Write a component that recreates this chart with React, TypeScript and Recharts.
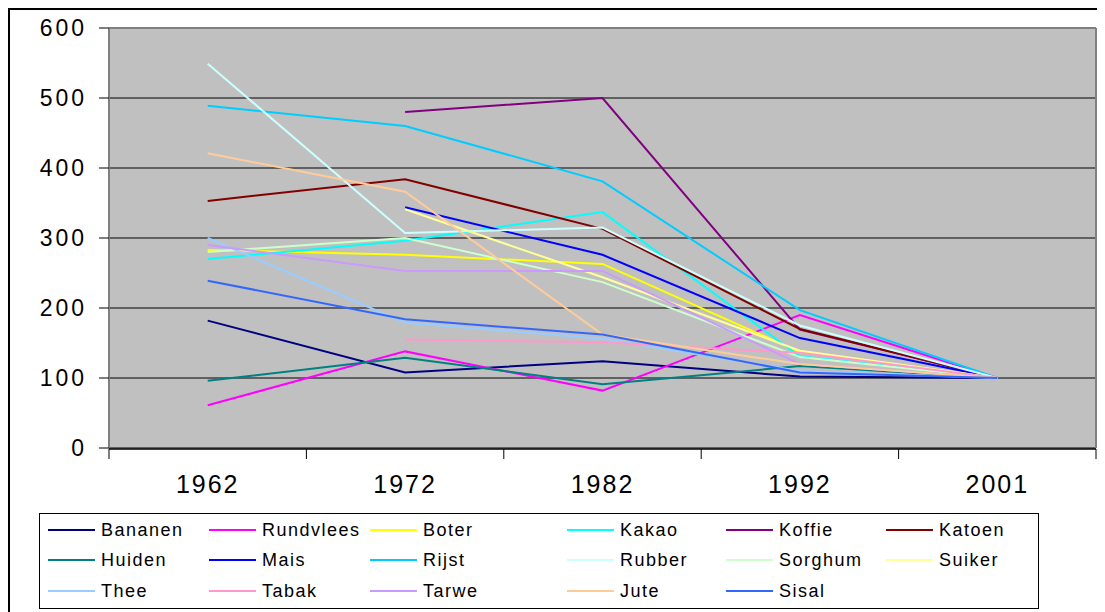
import { LineChart, Line, XAxis, YAxis, CartesianGrid, ReferenceLine, Legend } from "recharts"

const FONT = '"Liberation Sans", Arial, sans-serif'

// price index per commodity, 2001 = 100
const years = ["1962", "1972", "1982", "1992", "2001"]

const bananen = [182, 108, 124, 102, 100]
const rundvlees = [61, 138, 82, 190, 100]
const boter = [283, 276, 263, 137, 100]
const kakao = [270, 296, 337, 131, 100]
const koffie = [null, 480, 500, 169, 100]
const katoen = [353, 384, 313, 170, 100]
const huiden = [96, 129, 91, 117, 100]
const mais = [null, 344, 276, 157, 100]
const rijst = [489, 460, 381, 197, 100]
const rubber = [549, 307, 315, 175, 100]
const sorghum = [280, 300, 237, 130, 100]
const suiker = [null, 341, 244, 139, 100]
const thee = [300, 179, 156, 110, 100]
const tabak = [null, 155, 151, 136, 100]
const tarwe = [290, 253, 253, 120, 100]
const jute = [421, 366, 162, 120, 100]
const sisal = [239, 184, 162, 108, 100]

const yTicks = [0, 100, 200, 300, 400, 500, 600]
// category boundaries, counted in bands
const edgeTicks = [0, 1, 2, 3, 4, 5]

const commodities = [
  { name: "Bananen", values: bananen },
  { name: "Rundvlees", values: rundvlees },
  { name: "Boter", values: boter },
  { name: "Kakao", values: kakao },
  { name: "Koffie", values: koffie },
  { name: "Katoen", values: katoen },
  { name: "Huiden", values: huiden },
  { name: "Mais", values: mais },
  { name: "Rijst", values: rijst },
  { name: "Rubber", values: rubber },
  { name: "Sorghum", values: sorghum },
  { name: "Suiker", values: suiker },
  { name: "Thee", values: thee },
  { name: "Tabak", values: tabak },
  { name: "Tarwe", values: tarwe },
  { name: "Jute", values: jute },
  { name: "Sisal", values: sisal },
]

// classic office palette
const LINE_COLORS: Record<string, string> = {
  Bananen: "#000080",
  Rundvlees: "#FF00FF",
  Boter: "#FFFF00",
  Kakao: "#00FFFF",
  Koffie: "#800080",
  Katoen: "#800000",
  Huiden: "#008080",
  Mais: "#0000FF",
  Rijst: "#00CCFF",
  Rubber: "#CCFFFF",
  Sorghum: "#CCFFCC",
  Suiker: "#FFFF99",
  Thee: "#99CCFF",
  Tabak: "#FF99CC",
  Tarwe: "#CC99FF",
  Jute: "#FFCC99",
  Sisal: "#3366FF",
}

const chartData = years.map((year, i) => {
  const row: Record<string, string | number | null> = { year }
  commodities.forEach((c) => {
    row[c.name] = c.values[i]
  })
  return row
})

const bandCenter = (row: any) => years.indexOf(row.year) + 0.5

// legend grid: 6 columns, 3 rows
const LEGEND_COLS = [8, 169, 330, 527, 686, 846]
const LEGEND_ROWS = [15.5, 46, 77]

function YTick({ x, y, payload }: any) {
  return (
    <text x={x} y={y} dy="0.36em" textAnchor="end" fontSize={23} letterSpacing={3} fill="#000" fontFamily={FONT}>
      {payload.value}
    </text>
  )
}

function XTick({ x, y, payload }: any) {
  return (
    <text x={x} y={y} dy="0.71em" textAnchor="middle" fontSize={25} letterSpacing={2} fill="#000" fontFamily={FONT}>
      {payload.value}
    </text>
  )
}

function LegendBox() {
  return (
    <div
      style={{
        position: "relative",
        width: 1000,
        height: 96,
        boxSizing: "border-box",
        border: "1px solid #000",
        background: "#fff",
        fontFamily: FONT,
        fontSize: 18,
        letterSpacing: 1.5,
        color: "#000",
      }}
    >
      {commodities.map((c, i) => (
        <div
          key={c.name}
          style={{
            position: "absolute",
            left: LEGEND_COLS[i % 6],
            top: LEGEND_ROWS[Math.floor(i / 6)] - 10,
            height: 20,
            display: "flex",
            alignItems: "center",
            whiteSpace: "nowrap",
          }}
        >
          <span style={{ display: "inline-block", width: 47, height: 2, background: LINE_COLORS[c.name], marginRight: 6 }} />
          <span style={{ lineHeight: "20px" }}>{c.name}</span>
        </div>
      ))}
    </div>
  )
}

export default function App() {
  return (
    <div style={{ position: "relative", width: 1097, height: 604 }}>
      <style>{`html, body { overflow: hidden; }`}</style>
      <LineChart width={1097} height={604} data={chartData} margin={{ top: 20, right: 9, bottom: 162, left: 0 }}>
        <CartesianGrid vertical={false} stroke="#000" fill="#C0C0C0" fillOpacity={1} />
        {/* tick marks sit on the category boundaries */}
        <XAxis
          xAxisId="edge"
          type="number"
          dataKey={bandCenter}
          domain={[0, 5]}
          ticks={edgeTicks}
          interval={0}
          allowDataOverflow
          height={1}
          tick={() => <g />}
          tickSize={10}
          tickLine={{ stroke: "#000" }}
          axisLine={{ stroke: "#000", strokeWidth: 1.5 }}
        />
        <XAxis
          dataKey="year"
          height={1}
          padding={{ left: 98.7, right: 98.7 }}
          interval={0}
          tickLine={false}
          axisLine={false}
          tickSize={0}
          tickMargin={27}
          tick={(props: any) => <XTick {...props} />}
        />
        <YAxis
          width={101}
          domain={[0, 600]}
          ticks={yTicks}
          interval={0}
          tickSize={10}
          tickMargin={12}
          tickLine={{ stroke: "#000" }}
          axisLine={{ stroke: "#808080", strokeWidth: 2 }}
          tick={(props: any) => <YTick {...props} />}
        />
        <ReferenceLine y={600} stroke="#808080" strokeWidth={2} />
        <ReferenceLine xAxisId="edge" x={5} stroke="#808080" strokeWidth={2} />
        <Legend
          layout="horizontal"
          verticalAlign="middle"
          align="center"
          wrapperStyle={{ position: "absolute", left: 31, top: 505, width: 1000, height: 96 }}
          content={() => <LegendBox />}
        />
        {commodities.map((c) => (
          <Line
            key={c.name}
            type="linear"
            dataKey={c.name}
            name={c.name}
            stroke={LINE_COLORS[c.name]}
            strokeWidth={2}
            dot={false}
            activeDot={false}
            isAnimationActive={false}
          />
        ))}
      </LineChart>
      <div style={{ position: "absolute", left: 0, top: 0, width: 1097, height: 2, background: "#000" }} />
      <div style={{ position: "absolute", left: 0, top: 0, width: 2, height: 604, background: "#000" }} />
    </div>
  )
}
